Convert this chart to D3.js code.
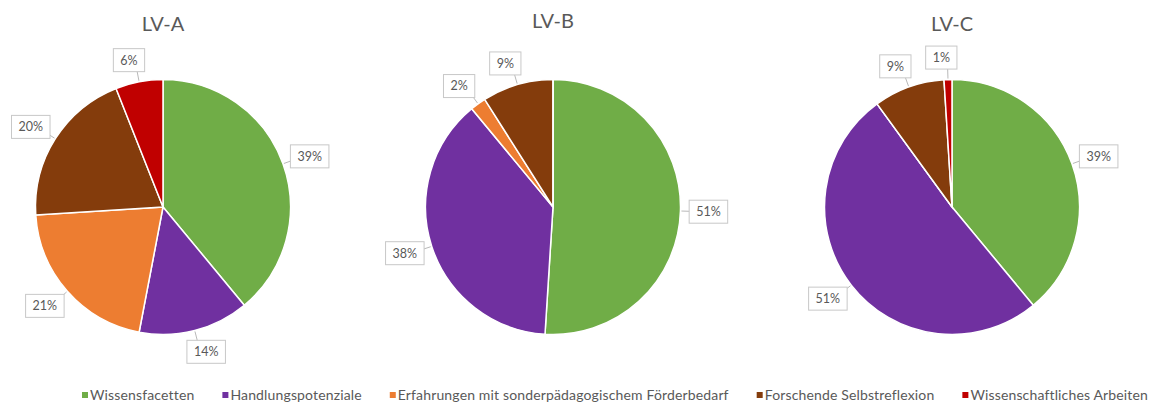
<!DOCTYPE html>
<html>
<head>
<meta charset="utf-8">
<script src="https://cdn.jsdelivr.net/npm/d3@7"></script>
<style>
  body { margin: 0; background: #fff; }
  text { font-family: Lato, "Open Sans", sans-serif; }
</style>
</head>
<body>
<div class="graph"></div>
<script>
const width = 1157;
const height = 405;

const categories = ['Wissensfacetten', 'Handlungspotenziale',
                    'Erfahrungen mit sonderpädagogischem Förderbedarf',
                    'Forschende Selbstreflexion', 'Wissenschaftliches Arbeiten'];
const colors = ['#70ad47', '#7030a0', '#ed7d31', '#843c0c', '#c00000'];

const titles = ['LV-A', 'LV-B', 'LV-C'];
const lvA = [39, 14, 21, 20, 6];
const lvB = [51, 38, 2, 9, 0];
const lvC = [39, 51, 0, 9, 1];
const series = [lvA, lvB, lvC];

const radius = 127.5;
const cy = 207;

const svg = d3.select('.graph').append('svg')
  .attr('width', width)
  .attr('height', height);

// pie centres for the three panels
const xScale = d3.scaleOrdinal()
  .domain(titles)
  .range([163, 553, 952]);

const color = d3.scaleOrdinal()
  .domain(categories)
  .range(colors);

const pie = d3.pie().sort(null).value(d => d);
const arc = d3.arc().innerRadius(0).outerRadius(radius);

series.forEach((values, i) => {
  const g = svg.append('g')
    .attr('transform', `translate(${xScale(titles[i])}, ${cy})`);

  svg.append('text')
    .attr('x', xScale(titles[i]))
    .attr('y', i === 1 ? 28 : 31)
    .attr('text-anchor', 'middle')
    .style('font-size', '20px')
    .style('fill', '#595959')
    .text(titles[i]);

  const arcs = pie(values);

  g.selectAll('path')
    .data(arcs)
    .join('path')
    .attr('d', arc)
    .attr('fill', (d, j) => color(categories[j]))
    .attr('stroke', '#fff')
    .attr('stroke-width', 1.5);

  const shown = arcs.filter(d => d.value > 0);

  // leader lines
  g.selectAll('line')
    .data(shown)
    .join('line')
    .each(function(d) {
      const a = (d.startAngle + d.endAngle) / 2;
      d3.select(this)
        .attr('x1', Math.sin(a) * (radius + 1))
        .attr('y1', -Math.cos(a) * (radius + 1))
        .attr('x2', Math.sin(a) * (radius + 14))
        .attr('y2', -Math.cos(a) * (radius + 14));
    })
    .attr('stroke', '#a6a6a6')
    .attr('stroke-width', 0.8);

  const labels = g.selectAll('g.label')
    .data(shown)
    .join('g')
    .attr('class', 'label')
    .attr('transform', d => {
      const a = (d.startAngle + d.endAngle) / 2;
      const lx = Math.sin(a) * (radius + 22) + 6 * Math.sign(Math.sin(a));
      const ly = -Math.cos(a) * (radius + 22);
      return `translate(${lx}, ${ly})`;
    });

  labels.append('rect').attr('class', 'box');
  labels.append('text')
    .attr('text-anchor', 'middle')
    .attr('dy', '0.35em')
    .style('font-size', '12.5px')
    .style('fill', '#595959')
    .text(d => d.value + '%');

  labels.each(function() {
    const t = d3.select(this).select('text').node().getComputedTextLength();
    d3.select(this).select('rect')
      .attr('x', -t / 2 - 7)
      .attr('y', -11.5)
      .attr('width', t + 14)
      .attr('height', 23)
      .attr('fill', '#fff')
      .attr('stroke', '#c8c8c8')
      .attr('stroke-width', 1);
  });
});

// legend
const legend = svg.append('g').attr('transform', 'translate(82, 395)');
let lx = 0;
categories.forEach(c => {
  const item = legend.append('g').attr('transform', `translate(${lx}, 0)`);
  item.append('rect')
    .attr('x', 0)
    .attr('y', -3)
    .attr('width', 6)
    .attr('height', 6)
    .attr('fill', color(c));
  const t = item.append('text')
    .attr('x', 8)
    .attr('dy', '0.35em')
    .style('font-size', '14px')
    .style('letter-spacing', '0.15px')
    .style('fill', '#595959')
    .text(c);
  lx += 8 + t.node().getComputedTextLength() + 28;
});
</script>
</body>
</html>
